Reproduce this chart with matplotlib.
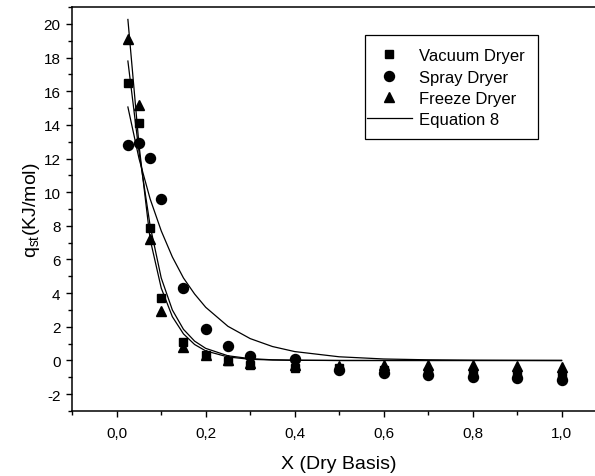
import numpy as np
import matplotlib
matplotlib.use("Agg")
import matplotlib.pyplot as plt
from matplotlib.patches import Rectangle
from matplotlib.ticker import MultipleLocator, FuncFormatter

plt.rcParams.update({
    "font.family": "Liberation Sans",
    "mathtext.fontset": "custom",
    "mathtext.rm": "Liberation Sans",
    "mathtext.it": "Liberation Sans",
    "axes.linewidth": 1.1,
})

# moisture content (dry basis) where the isosteric heats were measured
x_data = [0.025, 0.05, 0.075, 0.1, 0.15, 0.2, 0.25, 0.3, 0.4, 0.5, 0.6, 0.7, 0.8, 0.9, 1.0]

q_vacuum = [16.5, 14.1, 7.9, 3.7, 1.07, 0.34, -0.04, -0.24, -0.43, -0.47, -0.57, -0.67, -0.77, -0.87, -0.93]
q_spray = [12.8, 12.9, 12.05, 9.6, 4.3, 1.9, 0.85, 0.28, 0.06, -0.57, -0.77, -0.87, -0.97, -1.07, -1.13]
q_freeze = [19.1, 15.15, 7.2, 2.95, 0.8, 0.3, 0.0, -0.17, -0.24, -0.34, -0.28, -0.28, -0.28, -0.34, -0.37]

# Equation 8 evaluated for each dryer
x_fit = [0.025, 0.05, 0.075, 0.1, 0.125, 0.15, 0.175, 0.2, 0.25, 0.3, 0.35, 0.4,
         0.5, 0.6, 0.7, 0.8, 0.9, 1.0]
fit_vacuum = [17.79, 12.4, 8.0, 4.9, 3.0, 1.85, 1.15, 0.72, 0.28, 0.11, 0.04, 0.02,
              0.0, 0.0, 0.0, 0.0, 0.0, 0.0]
fit_spray = [15.06, 12.0, 9.6, 7.7, 6.15, 4.9, 3.95, 3.16, 2.03, 1.3, 0.83, 0.53,
             0.22, 0.09, 0.04, 0.015, 0.006, 0.0]
fit_freeze = [20.26, 12.8, 7.2, 4.3, 2.6, 1.58, 0.95, 0.57, 0.21, 0.07, 0.03, 0.01,
              0.0, 0.0, 0.0, 0.0, 0.0, 0.0]

fig = plt.figure(figsize=(5.95, 4.77), dpi=100)
ax = fig.add_axes([0.1215, 0.1363, 0.8970, 0.8469])

ax.plot(x_fit, fit_vacuum, color="black", lw=0.9)
ax.plot(x_fit, fit_spray, color="black", lw=0.9)
ax.plot(x_fit, fit_freeze, color="black", lw=0.9)

ax.plot(x_data, q_vacuum, ls="none", marker="s", ms=6.3, color="black", label="Vacuum Dryer")
ax.plot(x_data, q_spray, ls="none", marker="o", ms=7.2, color="black", label="Spray Dryer")
ax.plot(x_data, q_freeze, ls="none", marker="^", ms=7.5, color="black", label="Freeze Dryer")
ax.plot([], [], color="black", lw=0.9, label="Equation 8")

ax.set_xlim(-0.1, 1.1)
ax.set_ylim(-3, 21)
ax.xaxis.set_major_locator(MultipleLocator(0.2))
ax.xaxis.set_minor_locator(MultipleLocator(0.1))
ax.yaxis.set_major_locator(MultipleLocator(2))
ax.yaxis.set_minor_locator(MultipleLocator(1))
ax.xaxis.set_major_formatter(FuncFormatter(lambda v, p: f"{v:.1f}".replace(".", ",").replace("-0,0", "0,0")))
ax.yaxis.set_major_formatter(FuncFormatter(lambda v, p: f"{v:.0f}"))
ax.tick_params(which="major", direction="out", length=4.5, width=1.0, labelsize=11)
ax.tick_params(axis="x", which="major", pad=6)
ax.tick_params(axis="y", which="major", pad=4)
ax.tick_params(which="minor", direction="out", length=2.8, width=1.0)

ax.set_xlabel("X (Dry Basis)", fontsize=14, labelpad=11)
ax.set_ylabel(r"q$_{\mathrm{st}}$(KJ/mol)", fontsize=14, labelpad=1)

# legend box drawn separately so the padding can differ per side
ax.add_patch(Rectangle((0.5484, 0.6733), 0.3242, 0.2574, transform=ax.transAxes,
                       fill=False, edgecolor="black", lw=0.9, zorder=5))
leg = ax.legend(loc="center left", bbox_to_anchor=(0.5516, 0.800), fontsize=12,
                frameon=False, handlelength=2.7, handletextpad=0.45,
                labelspacing=0.38, borderpad=0, borderaxespad=0)

fig.savefig("out.png", dpi=100)
